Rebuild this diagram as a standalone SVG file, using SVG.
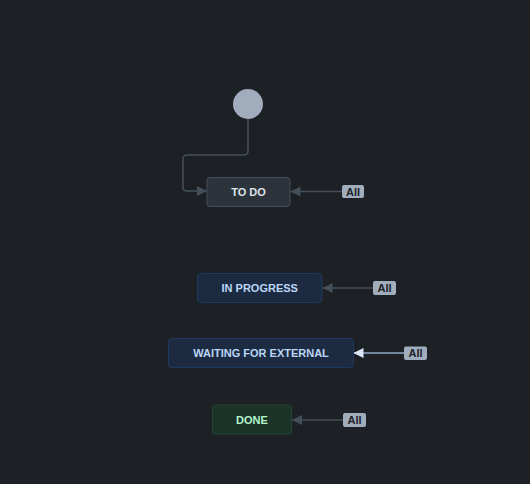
<svg xmlns="http://www.w3.org/2000/svg" width="530" height="484" viewBox="0 0 530 484">
<defs>
<style>
.bg{fill:#1d2125}
.node text{font-family:"Liberation Sans",Arial,sans-serif;font-size:11px;font-weight:bold;text-anchor:middle;dominant-baseline:central}
.todo rect{fill:#2c333a;stroke:#454f59;stroke-width:1}
.todo text{fill:#dee4ea}
.prog rect{fill:#1c2b41;stroke:#1f3a5f;stroke-width:1}
.prog text{fill:#bcd6f7}
.done rect{fill:#1c3329;stroke:#21452f;stroke-width:1}
.done text{fill:#b3f5c9}
.edge{fill:none;stroke:#454f59;stroke-width:1.5}
.edge.hl{stroke:#8fa7c8}
.lbl rect{fill:#9fadbc}
.lbl text{font-family:"Liberation Sans",Arial,sans-serif;font-size:11px;font-weight:bold;fill:#1d2125;text-anchor:middle;dominant-baseline:central}
</style>
<marker id="arr" viewBox="0 0 10 10" refX="10" refY="5" markerWidth="10" markerHeight="10" markerUnits="userSpaceOnUse" orient="auto"><path d="M0,0L10,5L0,10z" fill="#454f59"/></marker>
<marker id="arrhl" viewBox="0 0 10 10" refX="10" refY="5" markerWidth="10" markerHeight="10" markerUnits="userSpaceOnUse" orient="auto"><path d="M0,0L10,5L0,10z" fill="#dce8f7"/></marker>
</defs>
<rect class="bg" x="0" y="0" width="530" height="484"/>
<g id="connectors">
<path class="edge" d="M248,119 V151 Q248,155 244,155 H187 Q183,155 183,159 V187 Q183,191 187,191 H207" marker-end="url(#arr)"/>
<path class="edge" d="M342,191.5 H290.5" marker-end="url(#arr)"/>
<path class="edge" d="M373,288 H322.5" marker-end="url(#arr)"/>
<path class="edge hl" d="M404,353 H353.5" marker-end="url(#arrhl)"/>
<path class="edge" d="M343,420 H292" marker-end="url(#arr)"/>
<g class="lbl"><rect x="342" y="185" width="22" height="13" rx="2"/><text x="353" y="191.5">All</text></g>
<g class="lbl"><rect x="373" y="281" width="23" height="14" rx="2"/><text x="384.5" y="288">All</text></g>
<g class="lbl"><rect x="404" y="346.5" width="23" height="13.5" rx="2"/><text x="415.5" y="353.2">All</text></g>
<g class="lbl"><rect x="343" y="413" width="23" height="14" rx="2"/><text x="354.5" y="420">All</text></g>
</g>
<g id="start"><circle cx="248" cy="104" r="15" fill="#a1adbd"/></g>
<g id="todo" class="node todo"><rect x="207" y="177.5" width="83" height="29" rx="3"/><text x="248.5" y="192">TO DO</text></g>
<g id="inprogress" class="node prog"><rect x="197.5" y="273.5" width="124.5" height="29" rx="3"/><text x="259.7" y="288">IN PROGRESS</text></g>
<g id="waiting" class="node prog"><rect x="168.5" y="338.5" width="185" height="29" rx="3"/><text x="261" y="353">WAITING FOR EXTERNAL</text></g>
<g id="done" class="node done"><rect x="212.5" y="405" width="79" height="29" rx="3"/><text x="252" y="419.5">DONE</text></g>
</svg>
